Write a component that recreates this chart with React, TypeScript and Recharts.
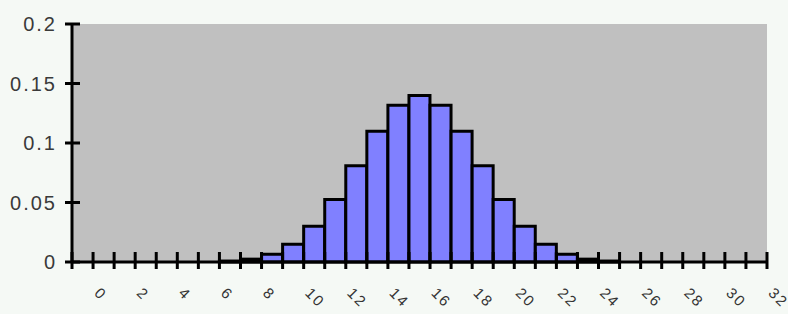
import { BarChart, Bar, XAxis, YAxis, CartesianGrid } from 'recharts'

const categories = [
  '0', '1', '2', '3', '4', '5', '6', '7', '8', '9', '10',
  '11', '12', '13', '14', '15', '16', '17', '18', '19', '20',
  '21', '22', '23', '24', '25', '26', '27', '28', '29', '30',
  '31', '32',
]

// probabilities
const probs = [
  0, 0, 0, 0, 0, 0, 0, 0.0008, 0.0024, 0.0065, 0.015,
  0.03, 0.0526, 0.0809, 0.1098, 0.1317, 0.14, 0.1317, 0.1098, 0.0809, 0.0526,
  0.03, 0.015, 0.0065, 0.0024, 0.0008, 0, 0, 0, 0, 0,
  0, 0,
]

const yTicks = [0, 0.05, 0.1, 0.15, 0.2]

const W = 788
const H = 314
const LEFT = 72
const RIGHT = 21
const BAND = (W - LEFT - RIGHT) / categories.length

const data = categories.map((k, i) => ({ k, p: probs[i] }))

function YTick({ x, y, payload }: any) {
  return (
    <g>
      <line x1={x - 7} x2={x + 8} y1={y} y2={y} stroke="#000" strokeWidth={3} />
      <text
        x={x - 15}
        y={y}
        dy={7}
        textAnchor="end"
        fontFamily="Liberation Sans, Arial, sans-serif"
        fontSize={20}
        letterSpacing={2}
        fill="#3a3a3a"
      >
        {payload.value}
      </text>
    </g>
  )
}

function XTick({ x, y, payload }: any) {
  const idx = categories.indexOf(String(payload.value))
  const left = x - BAND / 2
  const isLast = idx === categories.length - 1
  return (
    <g>
      <line x1={left} x2={left} y1={y - 10} y2={y + 7} stroke="#000" strokeWidth={3} />
      {isLast && (
        <line x1={left + BAND} x2={left + BAND} y1={y - 10} y2={y + 7} stroke="#000" strokeWidth={3} />
      )}
      {idx % 2 === 0 && (
        <text
          x={x + 11}
          y={y + 32}
          transform={`rotate(45 ${x + 11} ${y + 32})`}
          textAnchor="start"
          fontFamily="Liberation Sans, Arial, sans-serif"
          fontSize={15}
          letterSpacing={2}
          fill="#333"
        >
          {payload.value}
        </text>
      )}
    </g>
  )
}

export default function App() {
  return (
    <div
      style={{
        position: 'absolute',
        left: 0,
        top: 0,
        width: W,
        height: H,
        background: '#f5f9f5',
      }}
    >
      <BarChart
        width={W}
        height={H}
        data={data}
        margin={{ top: 24, right: RIGHT, left: 0, bottom: 0 }}
        barCategoryGap={0}
        barGap={0}
      >
        <CartesianGrid fill="#c0c0c0" horizontal={false} vertical={false} />
        <XAxis
          dataKey="k"
          interval={0}
          height={52}
          tickSize={0}
          tickMargin={0}
          tick={<XTick />}
          axisLine={{ stroke: '#000', strokeWidth: 3 }}
        />
        <XAxis
          xAxisId="top"
          dataKey="k"
          orientation="top"
          height={0}
          tick={false}
          tickLine={false}
          axisLine={{ stroke: '#808080', strokeWidth: 2 }}
        />
        <YAxis
          width={LEFT}
          domain={[0, 0.2]}
          ticks={yTicks}
          interval={0}
          tickSize={0}
          tickMargin={0}
          tick={<YTick />}
          axisLine={{ stroke: '#000', strokeWidth: 3 }}
        />
        <YAxis
          yAxisId="right"
          orientation="right"
          width={0}
          domain={[0, 0.2]}
          tick={false}
          tickLine={false}
          axisLine={{ stroke: '#808080', strokeWidth: 2 }}
        />
        <Bar
          dataKey="p"
          fill="#8080ff"
          stroke="#000"
          strokeWidth={3}
          isAnimationActive={false}
        />
      </BarChart>
    </div>
  )
}
